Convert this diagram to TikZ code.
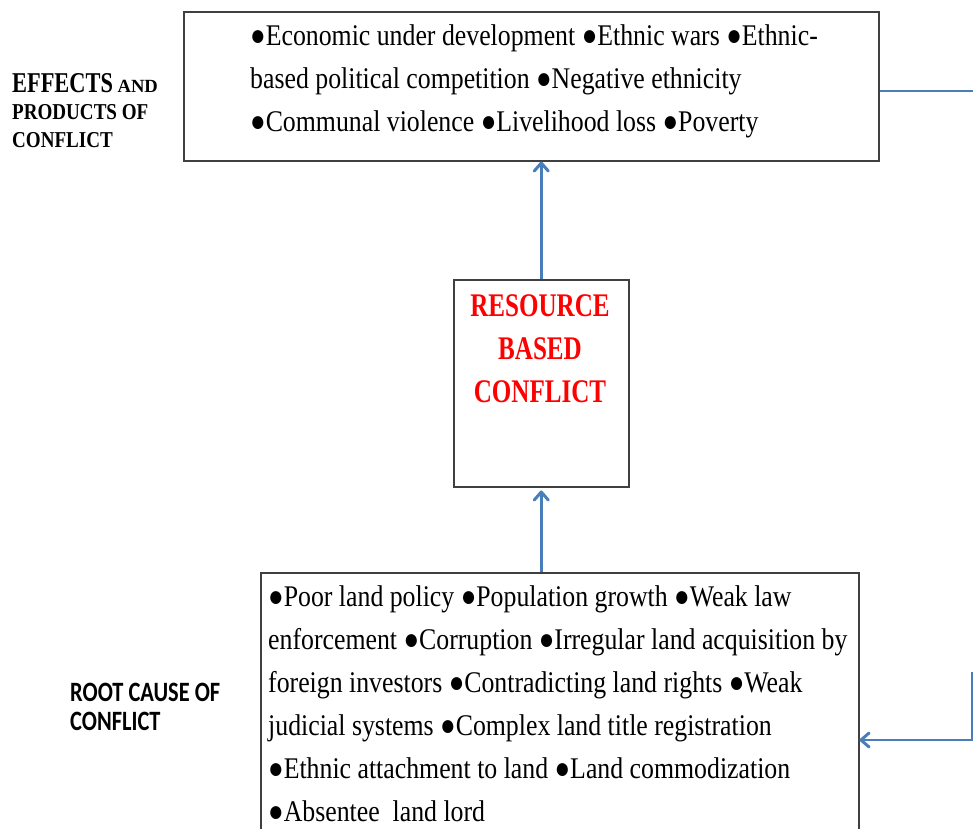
\documentclass[tikz,border=0pt]{standalone}
\usepackage{fontspec}
\setmainfont{Liberation Serif}
\newfontfamily\bodyf[FakeStretch=0.86]{Liberation Serif}
\newfontfamily\midf[FakeStretch=0.76]{Liberation Serif}
\newfontfamily\effA[FakeStretch=0.78]{Liberation Serif}
\newfontfamily\effB[FakeStretch=0.84]{Liberation Serif}
\newfontfamily\rootf[FakeStretch=0.8]{Carlito}
\usetikzlibrary{arrows.meta}
\definecolor{conblue}{RGB}{74,126,187}
\definecolor{boxgray}{RGB}{64,64,64}
\tikzset{
  framebox/.style={draw=boxgray, line width=1.5pt, inner sep=0pt, anchor=north west},
  bodytext/.style={anchor=base west, inner sep=0pt, align=left, font=\bodyf\fontsize{30}{43}\selectfont},
  conn/.style={draw=conblue, line width=2.5pt},
  connarrow/.style={conn, -{Straight Barb[length=8pt,width=14pt,line width=3pt,round]}}
}
\begin{document}
\begin{tikzpicture}[x=1pt,y=-1pt]
\useasboundingbox[fill=white] (0,0) rectangle (973,828);
% boxes
\node[framebox, minimum width=695pt, minimum height=149pt] (eff) at (183,11) {};
\node[framebox, minimum width=175pt, minimum height=207pt] (res) at (453,279) {};
\node[framebox, minimum width=598pt, minimum height=270pt] (root) at (260,572) {};
% box texts (anchored at the baseline of the last line)
\node[bodytext] (efftext) at (250,131) {●Economic under development ●Ethnic wars ●Ethnic-\\based political competition ●Negative ethnicity\\●Communal violence ●Livelihood loss ●Poverty};
\node[anchor=base, inner sep=0pt, align=center, text=red, font=\midf\bfseries\fontsize{33}{43}\selectfont] (restext) at (540,402) {RESOURCE\\BASED\\CONFLICT};
\node[bodytext] (roottext) at (268,821) {●Poor land policy ●Population growth ●Weak law\\enforcement ●Corruption ●Irregular land acquisition by\\foreign investors ●Contradicting land rights ●Weak\\judicial systems ●Complex land title registration\\●Ethnic attachment to land ●Land commodization\\●Absentee\ \ land lord};
% side labels
\node[anchor=base west, inner sep=0pt, align=left, font=\effB\bfseries\fontsize{22.7}{27.5}\selectfont] (efflabel) at (12,147)
  {{\effA\fontsize{28.7}{27.5}\selectfont EFFECTS}{\rmfamily\fontsize{18.6}{27.5}\selectfont\bfseries\ AND}\\PRODUCTS OF\\CONFLICT};
\node[anchor=base west, inner sep=0pt, align=left, font=\rootf\bfseries\fontsize{28}{29}\selectfont] (rootlabel) at (70,730)
  {ROOT CAUSE OF\\CONFLICT};
% connectors
\draw[connarrow] (res.north) -- (res.north |- eff.south);
\draw[connarrow] (res.south |- root.north) -- ([yshift=-3pt]res.south);
\coordinate (rtop) at (990,91);
\coordinate (rbot) at (972,672);
\draw[conn] (eff.east |- rtop) -- (rtop);
\draw[connarrow] (rbot) -- (972,740) -- (root.east |- 0,740);
\end{tikzpicture}
\end{document}
